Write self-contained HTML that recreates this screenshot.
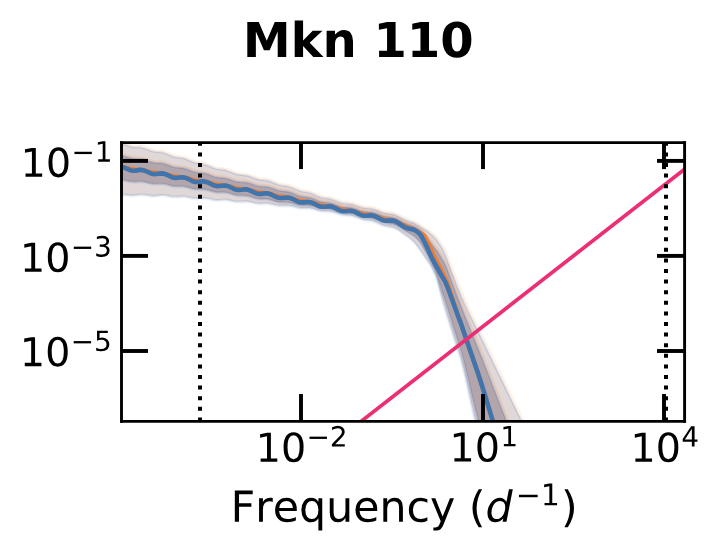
<!DOCTYPE html>
<html><head><meta charset="utf-8"><title>Mkn 110</title>
<style>html,body{margin:0;padding:0;background:#fff;font-family:"Liberation Sans",sans-serif;}
svg{display:block;}</style></head>
<body>
<svg width="718" height="553" viewBox="0 0 718 553" version="1.1">
<defs>
<style type="text/css">*{stroke-linejoin: round; stroke-linecap: butt}</style>
</defs>
<g id="figure_1">
<g id="patch_1">
<path d="M 0 553 L 718 553 L 718 0 L 0 0 z" style="fill: #ffffff"/>
</g>
<g id="axes_1">
<g id="patch_2">
<path d="M 121.5 421.4 L 684.6 421.4 L 684.6 142.6 L 121.5 142.6 z" style="fill: #ffffff"/>
</g>
<g id="FillBetweenPolyCollection_1">
<path d="M 117.5 143.2 L 117.5 195.6 L 118.4 195.4 L 119.3 195.2 L 120.3 195.1 L 121.2 194.9 L 122.1 194.8 L 123 194.6 L 123.9 194.5 L 124.9 194.5 L 125.8 194.6 L 126.7 194.8 L 127.6 194.9 L 128.5 195.1 L 129.5 195.2 L 130.4 195.3 L 131.3 195.3 L 132.2 195.3 L 133.1 195.3 L 134.1 195.2 L 135 195.1 L 135.9 195 L 136.8 194.9 L 137.7 194.7 L 138.7 194.6 L 139.6 194.5 L 140.5 194.4 L 141.4 194.4 L 142.4 194.4 L 143.3 194.5 L 144.2 194.5 L 145.1 194.7 L 146 194.8 L 147 195 L 147.9 195.1 L 148.8 195.3 L 149.7 195.5 L 150.6 195.6 L 151.6 195.7 L 152.5 195.7 L 153.4 195.7 L 154.3 195.7 L 155.2 195.7 L 156.2 195.6 L 157.1 195.4 L 158 195.3 L 158.9 195.2 L 159.8 195.1 L 160.8 195 L 161.7 195 L 162.6 195 L 163.5 195 L 164.4 195.1 L 165.4 195.2 L 166.3 195.3 L 167.2 195.5 L 168.1 195.7 L 169 195.9 L 170 196.1 L 170.9 196.3 L 171.8 196.4 L 172.7 196.5 L 173.6 196.6 L 174.6 196.6 L 175.5 196.6 L 176.4 196.6 L 177.3 196.5 L 178.2 196.5 L 179.2 196.4 L 180.1 196.3 L 181 196.2 L 181.9 196.2 L 182.8 196.2 L 183.8 196.2 L 184.7 196.2 L 185.6 196.4 L 186.5 196.5 L 187.4 196.7 L 188.4 196.9 L 189.3 197.1 L 190.2 197.3 L 191.1 197.5 L 192.1 197.7 L 193 197.9 L 193.9 198 L 194.8 198.1 L 195.7 198.2 L 196.7 198.2 L 197.6 198.2 L 198.5 198.1 L 199.4 198 L 200.3 198 L 201.3 197.9 L 202.2 197.8 L 203.1 197.8 L 204 197.8 L 204.9 197.9 L 205.9 197.9 L 206.8 198.1 L 207.7 198.2 L 208.6 198.4 L 209.5 198.6 L 210.5 198.9 L 211.4 199.1 L 212.3 199.3 L 213.2 199.5 L 214.1 199.7 L 215.1 199.8 L 216 199.9 L 216.9 199.9 L 217.8 199.9 L 218.7 199.9 L 219.7 199.8 L 220.6 199.8 L 221.5 199.7 L 222.4 199.6 L 223.3 199.6 L 224.3 199.5 L 225.2 199.5 L 226.1 199.6 L 227 199.7 L 227.9 199.8 L 228.9 200 L 229.8 200.2 L 230.7 200.4 L 231.6 200.6 L 232.5 200.8 L 233.5 201 L 234.4 201.2 L 235.3 201.4 L 236.2 201.5 L 237.1 201.6 L 238.1 201.6 L 239 201.6 L 239.9 201.5 L 240.8 201.5 L 241.8 201.4 L 242.7 201.3 L 243.6 201.3 L 244.5 201.2 L 245.4 201.2 L 246.4 201.2 L 247.3 201.3 L 248.2 201.4 L 249.1 201.5 L 250 201.7 L 251 201.9 L 251.9 202.1 L 252.8 202.4 L 253.7 202.6 L 254.6 202.8 L 255.6 203 L 256.5 203.2 L 257.4 203.3 L 258.3 203.4 L 259.2 203.4 L 260.2 203.4 L 261.1 203.4 L 262 203.3 L 262.9 203.2 L 263.8 203.2 L 264.8 203.1 L 265.7 203.1 L 266.6 203.1 L 267.5 203.2 L 268.4 203.2 L 269.4 203.4 L 270.3 203.5 L 271.2 203.7 L 272.1 203.9 L 273 204.2 L 274 204.4 L 274.9 204.7 L 275.8 204.9 L 276.7 205.1 L 277.6 205.3 L 278.6 205.4 L 279.5 205.5 L 280.4 205.5 L 281.3 205.5 L 282.2 205.5 L 283.2 205.5 L 284.1 205.4 L 285 205.4 L 285.9 205.3 L 286.8 205.3 L 287.8 205.4 L 288.7 205.4 L 289.6 205.5 L 290.5 205.7 L 291.5 205.9 L 292.4 206.1 L 293.3 206.3 L 294.2 206.6 L 295.1 206.8 L 296.1 207.1 L 297 207.3 L 297.9 207.5 L 298.8 207.7 L 299.7 207.8 L 300.7 207.9 L 301.6 208 L 302.5 208 L 303.4 208 L 304.3 208 L 305.3 208 L 306.2 207.9 L 307.1 207.9 L 308 207.9 L 308.9 208 L 309.9 208.1 L 310.8 208.2 L 311.7 208.4 L 312.6 208.6 L 313.5 208.8 L 314.5 209.1 L 315.4 209.4 L 316.3 209.7 L 317.2 210 L 318.1 210.2 L 319.1 210.4 L 320 210.6 L 320.9 210.8 L 321.8 210.9 L 322.7 211 L 323.7 211 L 324.6 211 L 325.5 211 L 326.4 211 L 327.3 211 L 328.3 211.1 L 329.2 211.1 L 330.1 211.2 L 331 211.3 L 331.9 211.5 L 332.9 211.7 L 333.8 212 L 334.7 212.2 L 335.6 212.5 L 336.5 212.9 L 337.5 213.2 L 338.4 213.5 L 339.3 213.8 L 340.2 214 L 341.2 214.3 L 342.1 214.4 L 343 214.6 L 343.9 214.7 L 344.8 214.8 L 345.8 214.9 L 346.7 214.9 L 347.6 215 L 348.5 215 L 349.4 215.1 L 350.4 215.2 L 351.3 215.4 L 352.2 215.5 L 353.1 215.8 L 354 216.1 L 355 216.4 L 355.9 216.7 L 356.8 217.1 L 357.7 217.5 L 358.6 217.8 L 359.6 218.2 L 360.5 218.5 L 361.4 218.9 L 362.3 219.1 L 363.2 219.4 L 364.2 219.6 L 365.1 219.7 L 366 219.9 L 366.9 220 L 367.8 220.1 L 368.8 220.2 L 369.7 220.3 L 370.6 220.5 L 371.5 220.6 L 372.4 220.8 L 373.4 221.1 L 374.3 221.4 L 375.2 221.7 L 376.1 222.1 L 377 222.5 L 378 222.9 L 378.9 223.3 L 379.8 223.8 L 380.7 224.2 L 381.6 224.6 L 382.6 224.9 L 383.5 225.2 L 384.4 225.5 L 385.3 225.8 L 386.2 226 L 387.2 226.1 L 388.1 226.3 L 389 226.4 L 389.9 226.6 L 390.9 226.8 L 391.8 227 L 392.7 227.2 L 393.6 227.5 L 394.5 227.9 L 395.5 228.3 L 396.4 228.7 L 397.3 229.2 L 398.2 229.8 L 399.1 230.3 L 400.1 230.9 L 401 231.5 L 401.9 232.2 L 402.8 232.8 L 403.7 233.5 L 404.7 234.2 L 405.6 234.8 L 406.5 235.5 L 407.4 236.2 L 408.3 236.8 L 409.3 237.5 L 410.2 238.2 L 411.1 238.9 L 412 239.7 L 412.9 240.5 L 413.9 241.4 L 414.8 242.4 L 415.7 243.5 L 416.6 244.7 L 417.5 245.9 L 418.5 247.2 L 419.4 248.5 L 420.3 249.8 L 421.2 251.1 L 422.1 252.5 L 423.1 253.8 L 424 255.1 L 424.9 256.4 L 425.8 257.7 L 426.7 259 L 427.7 260.3 L 428.6 261.7 L 429.5 263.1 L 430.4 264.6 L 431.3 266.2 L 432.3 267.9 L 433.2 269.6 L 434.1 271.5 L 435 273.5 L 435.9 275.7 L 436.9 278.3 L 437.8 281.4 L 438.7 284.8 L 439.6 288.4 L 440.6 292 L 441.5 295.5 L 442.4 298.8 L 443.3 301.9 L 444.2 305 L 445.2 308.1 L 446.1 311.1 L 447 314.1 L 447.9 317.1 L 448.8 320.1 L 449.8 323.1 L 450.7 326 L 451.6 329 L 452.5 331.9 L 453.4 334.8 L 454.4 337.7 L 455.3 340.6 L 456.2 343.5 L 457.1 346.4 L 458 349.2 L 459 351.9 L 459.9 354.7 L 460.8 357.8 L 461.7 361.1 L 462.6 364.5 L 463.6 368.2 L 464.5 371.9 L 465.4 375.8 L 466.3 379.8 L 467.2 383.9 L 468.2 388 L 469.1 392.2 L 470 396.4 L 470.9 400.6 L 471.8 404.8 L 472.8 409 L 473.7 413.2 L 474.6 417.3 L 475.5 421.3 L 476.4 425.2 L 477.4 429.2 L 478.3 433.2 L 479.2 437.2 L 480.1 441.1 L 481 445.1 L 482 449.1 L 482.9 453 L 483.8 457 L 484.7 461 L 485.6 465 L 486.6 468.9 L 487.5 472.9 L 488.4 476.9 L 489.3 480.9 L 490.3 484.8 L 491.2 488.8 L 492.1 492.8 L 493 496.7 L 493.9 500.7 L 494.9 504.7 L 495.8 508.7 L 496.7 512.6 L 497.6 516.6 L 498.5 520.6 L 499.5 524.6 L 500.4 528.5 L 501.3 532.5 L 502.2 536.5 L 503.1 540.4 L 504.1 544.4 L 505 548.4 L 505.9 552.4 L 506.8 556.3 L 507.7 560.3 L 508.7 564.3 L 509.6 568.3 L 510.5 572.2 L 511.4 576.2 L 512.3 580.2 L 513.3 584.1 L 514.2 588.1 L 515.1 592.1 L 516 596.1 L 516.9 600 L 517.9 604 L 518.8 608 L 519.7 611.9 L 520.6 615.9 L 521.5 619.9 L 522.5 623.9 L 523.4 627.8 L 524.3 631.8 L 525.2 635.8 L 526.1 639.8 L 527.1 643.7 L 528 647.7 L 528.9 651.7 L 529.8 655.6 L 530.7 659.6 L 531.7 663.6 L 532.6 667.5 L 533.5 671.5 L 534.4 675.5 L 535.3 679.5 L 536.3 683.4 L 537.2 687.4 L 538.1 691.4 L 539 695.3 L 540 699.3 L 540 459.4 L 540 459.4 L 539 457.5 L 538.1 455.6 L 537.2 453.6 L 536.3 451.7 L 535.3 449.8 L 534.4 447.8 L 533.5 445.9 L 532.6 444 L 531.7 442 L 530.7 440.1 L 529.8 438.2 L 528.9 436.3 L 528 434.4 L 527.1 432.4 L 526.1 430.5 L 525.2 428.6 L 524.3 426.7 L 523.4 424.8 L 522.5 422.8 L 521.5 420.9 L 520.6 419 L 519.7 417.1 L 518.8 415.2 L 517.9 413.3 L 516.9 411.4 L 516 409.5 L 515.1 407.6 L 514.2 405.7 L 513.3 403.8 L 512.3 401.9 L 511.4 400 L 510.5 398.1 L 509.6 396.2 L 508.7 394.3 L 507.7 392.4 L 506.8 390.5 L 505.9 388.7 L 505 386.8 L 504.1 384.9 L 503.1 383 L 502.2 381.1 L 501.3 379.2 L 500.4 377.3 L 499.5 375.4 L 498.5 373.5 L 497.6 371.7 L 496.7 369.8 L 495.8 367.9 L 494.9 366 L 493.9 364.1 L 493 362.2 L 492.1 360.3 L 491.2 358.4 L 490.3 356.5 L 489.3 354.6 L 488.4 352.7 L 487.5 350.8 L 486.6 348.9 L 485.6 347 L 484.7 345.1 L 483.8 343.2 L 482.9 341.3 L 482 339.5 L 481 337.6 L 480.1 335.7 L 479.2 333.9 L 478.3 332 L 477.4 330.2 L 476.4 328.3 L 475.5 326.5 L 474.6 324.6 L 473.7 322.8 L 472.8 320.9 L 471.8 319 L 470.9 317.1 L 470 315.2 L 469.1 313.3 L 468.2 311.4 L 467.2 309.4 L 466.3 307.4 L 465.4 305.5 L 464.5 303.4 L 463.6 301.4 L 462.6 299.3 L 461.7 297.2 L 460.8 295 L 459.9 292.8 L 459 290.5 L 458 288.3 L 457.1 285.9 L 456.2 283.6 L 455.3 281.2 L 454.4 278.9 L 453.4 276.5 L 452.5 274.1 L 451.6 271.8 L 450.7 269.3 L 449.8 266.7 L 448.8 264.1 L 447.9 261.5 L 447 259 L 446.1 256.6 L 445.2 254.3 L 444.2 252.3 L 443.3 250.5 L 442.4 248.8 L 441.5 247.2 L 440.6 245.7 L 439.6 244.3 L 438.7 242.9 L 437.8 241.6 L 436.9 240.3 L 435.9 239.2 L 435 238.1 L 434.1 237.1 L 433.2 236.2 L 432.3 235.3 L 431.3 234.5 L 430.4 233.7 L 429.5 233 L 428.6 232.2 L 427.7 231.6 L 426.7 230.9 L 425.8 230.3 L 424.9 229.7 L 424 229.2 L 423.1 228.6 L 422.1 228 L 421.2 227.4 L 420.3 226.8 L 419.4 226.2 L 418.5 225.6 L 417.5 225 L 416.6 224.4 L 415.7 223.9 L 414.8 223.4 L 413.9 223 L 412.9 222.6 L 412 222.3 L 411.1 222 L 410.2 221.7 L 409.3 221.4 L 408.3 221.1 L 407.4 220.8 L 406.5 220.5 L 405.6 220.1 L 404.7 219.7 L 403.7 219.2 L 402.8 218.8 L 401.9 218.3 L 401 217.8 L 400.1 217.3 L 399.1 216.8 L 398.2 216.3 L 397.3 215.9 L 396.4 215.5 L 395.5 215.1 L 394.5 214.8 L 393.6 214.5 L 392.7 214.2 L 391.8 214.1 L 390.9 213.9 L 389.9 213.8 L 389 213.7 L 388.1 213.6 L 387.2 213.4 L 386.2 213.3 L 385.3 213.1 L 384.4 212.9 L 383.5 212.7 L 382.6 212.4 L 381.6 212.1 L 380.7 211.8 L 379.8 211.4 L 378.9 211 L 378 210.7 L 377 210.3 L 376.1 209.9 L 375.2 209.6 L 374.3 209.3 L 373.4 209.1 L 372.4 208.9 L 371.5 208.7 L 370.6 208.6 L 369.7 208.5 L 368.8 208.4 L 367.8 208.3 L 366.9 208.3 L 366 208.2 L 365.1 208.1 L 364.2 208 L 363.2 207.8 L 362.3 207.6 L 361.4 207.4 L 360.5 207.1 L 359.6 206.8 L 358.6 206.5 L 357.7 206.1 L 356.8 205.8 L 355.9 205.4 L 355 205.1 L 354 204.8 L 353.1 204.5 L 352.2 204.3 L 351.3 204.1 L 350.4 204 L 349.4 203.9 L 348.5 203.8 L 347.6 203.7 L 346.7 203.6 L 345.8 203.6 L 344.8 203.5 L 343.9 203.4 L 343 203.3 L 342.1 203.1 L 341.2 202.8 L 340.2 202.6 L 339.3 202.3 L 338.4 201.9 L 337.5 201.6 L 336.5 201.2 L 335.6 200.8 L 334.7 200.4 L 333.8 200.1 L 332.9 199.7 L 331.9 199.4 L 331 199.2 L 330.1 198.9 L 329.2 198.8 L 328.3 198.6 L 327.3 198.5 L 326.4 198.4 L 325.5 198.3 L 324.6 198.1 L 323.7 198 L 322.7 197.8 L 321.8 197.6 L 320.9 197.4 L 320 197.1 L 319.1 196.8 L 318.1 196.4 L 317.2 196 L 316.3 195.6 L 315.4 195.2 L 314.5 194.8 L 313.5 194.4 L 312.6 194 L 311.7 193.6 L 310.8 193.3 L 309.9 193 L 308.9 192.8 L 308 192.6 L 307.1 192.4 L 306.2 192.2 L 305.3 192.1 L 304.3 192 L 303.4 191.8 L 302.5 191.7 L 301.6 191.5 L 300.7 191.3 L 299.7 191 L 298.8 190.7 L 297.9 190.4 L 297 190 L 296.1 189.6 L 295.1 189.2 L 294.2 188.8 L 293.3 188.3 L 292.4 187.9 L 291.5 187.5 L 290.5 187.2 L 289.6 186.9 L 288.7 186.6 L 287.8 186.4 L 286.8 186.2 L 285.9 186 L 285 185.9 L 284.1 185.8 L 283.2 185.7 L 282.2 185.5 L 281.3 185.4 L 280.4 185.2 L 279.5 185 L 278.6 184.8 L 277.6 184.5 L 276.7 184.2 L 275.8 183.8 L 274.9 183.5 L 274 183.1 L 273 182.7 L 272.1 182.3 L 271.2 181.9 L 270.3 181.6 L 269.4 181.3 L 268.4 181 L 267.5 180.8 L 266.6 180.6 L 265.7 180.4 L 264.8 180.3 L 263.8 180.2 L 262.9 180.1 L 262 180.1 L 261.1 180 L 260.2 179.9 L 259.2 179.7 L 258.3 179.5 L 257.4 179.3 L 256.5 179.1 L 255.6 178.8 L 254.6 178.4 L 253.7 178.1 L 252.8 177.7 L 251.9 177.3 L 251 177 L 250 176.6 L 249.1 176.3 L 248.2 176 L 247.3 175.8 L 246.4 175.6 L 245.4 175.4 L 244.5 175.3 L 243.6 175.2 L 242.7 175.1 L 241.8 175 L 240.8 174.9 L 239.9 174.8 L 239 174.7 L 238.1 174.6 L 237.1 174.4 L 236.2 174.2 L 235.3 173.9 L 234.4 173.6 L 233.5 173.2 L 232.5 172.9 L 231.6 172.5 L 230.7 172.1 L 229.8 171.7 L 228.9 171.4 L 227.9 171.1 L 227 170.8 L 226.1 170.5 L 225.2 170.3 L 224.3 170.1 L 223.3 170 L 222.4 169.8 L 221.5 169.7 L 220.6 169.6 L 219.7 169.5 L 218.7 169.4 L 217.8 169.3 L 216.9 169.1 L 216 168.9 L 215.1 168.6 L 214.1 168.3 L 213.2 168 L 212.3 167.6 L 211.4 167.2 L 210.5 166.8 L 209.5 166.4 L 208.6 166 L 207.7 165.6 L 206.8 165.2 L 205.9 164.9 L 204.9 164.7 L 204 164.4 L 203.1 164.2 L 202.2 164.1 L 201.3 163.9 L 200.3 163.8 L 199.4 163.7 L 198.5 163.6 L 197.6 163.4 L 196.7 163.3 L 195.7 163.1 L 194.8 162.8 L 193.9 162.5 L 193 162.2 L 192.1 161.8 L 191.1 161.5 L 190.2 161 L 189.3 160.6 L 188.4 160.2 L 187.4 159.8 L 186.5 159.4 L 185.6 159.1 L 184.7 158.8 L 183.8 158.5 L 182.8 158.3 L 181.9 158.1 L 181 158 L 180.1 157.8 L 179.2 157.7 L 178.2 157.6 L 177.3 157.5 L 176.4 157.4 L 175.5 157.2 L 174.6 157 L 173.6 156.8 L 172.7 156.5 L 171.8 156.2 L 170.9 155.8 L 170 155.4 L 169 155 L 168.1 154.6 L 167.2 154.3 L 166.3 153.9 L 165.4 153.5 L 164.4 153.2 L 163.5 152.9 L 162.6 152.7 L 161.7 152.5 L 160.8 152.4 L 159.8 152.3 L 158.9 152.2 L 158 152.1 L 157.1 152 L 156.2 151.9 L 155.2 151.8 L 154.3 151.7 L 153.4 151.5 L 152.5 151.3 L 151.6 151.1 L 150.6 150.8 L 149.7 150.5 L 148.8 150.1 L 147.9 149.8 L 147 149.4 L 146 149.1 L 145.1 148.7 L 144.2 148.4 L 143.3 148.2 L 142.4 148 L 141.4 147.8 L 140.5 147.6 L 139.6 147.5 L 138.7 147.4 L 137.7 147.4 L 136.8 147.3 L 135.9 147.3 L 135 147.2 L 134.1 147.2 L 133.1 147.1 L 132.2 146.9 L 131.3 146.7 L 130.4 146.5 L 129.5 146.2 L 128.5 145.9 L 127.6 145.6 L 126.7 145.3 L 125.8 144.9 L 124.9 144.6 L 123.9 144.3 L 123 144 L 122.1 143.7 L 121.2 143.5 L 120.3 143.4 L 119.3 143.3 L 118.4 143.2 L 117.5 143.2 z" clip-path="url(#p14f3e395e9)" style="fill: #e0d8d8"/>
</g>
<g id="FillBetweenPolyCollection_2">
<path d="M 117.5 155.1 L 117.5 180.2 L 118.4 180.1 L 119.3 180.1 L 120.3 180 L 121.2 180 L 122.1 180.1 L 123 180.1 L 123.9 180.1 L 124.9 180.3 L 125.8 180.5 L 126.7 180.7 L 127.6 181 L 128.5 181.2 L 129.5 181.4 L 130.4 181.5 L 131.3 181.6 L 132.2 181.7 L 133.1 181.7 L 134.1 181.7 L 135 181.7 L 135.9 181.7 L 136.8 181.6 L 137.7 181.5 L 138.7 181.5 L 139.6 181.5 L 140.5 181.4 L 141.4 181.5 L 142.4 181.6 L 143.3 181.7 L 144.2 181.8 L 145.1 182 L 146 182.2 L 147 182.5 L 147.9 182.7 L 148.8 183 L 149.7 183.2 L 150.6 183.4 L 151.6 183.5 L 152.5 183.7 L 153.4 183.7 L 154.3 183.8 L 155.2 183.8 L 156.2 183.8 L 157.1 183.7 L 158 183.7 L 158.9 183.6 L 159.8 183.6 L 160.8 183.6 L 161.7 183.6 L 162.6 183.7 L 163.5 183.8 L 164.4 183.9 L 165.4 184.1 L 166.3 184.3 L 167.2 184.6 L 168.1 184.8 L 169 185.1 L 170 185.4 L 170.9 185.6 L 171.8 185.8 L 172.7 186 L 173.6 186.2 L 174.6 186.3 L 175.5 186.3 L 176.4 186.3 L 177.3 186.3 L 178.2 186.3 L 179.2 186.3 L 180.1 186.3 L 181 186.3 L 181.9 186.3 L 182.8 186.3 L 183.8 186.4 L 184.7 186.6 L 185.6 186.7 L 186.5 186.9 L 187.4 187.2 L 188.4 187.4 L 189.3 187.7 L 190.2 188 L 191.1 188.3 L 192.1 188.5 L 193 188.8 L 193.9 188.9 L 194.8 189.1 L 195.7 189.2 L 196.7 189.3 L 197.6 189.3 L 198.5 189.3 L 199.4 189.3 L 200.3 189.3 L 201.3 189.3 L 202.2 189.3 L 203.1 189.3 L 204 189.4 L 204.9 189.5 L 205.9 189.6 L 206.8 189.8 L 207.7 190 L 208.6 190.3 L 209.5 190.5 L 210.5 190.8 L 211.4 191.1 L 212.3 191.4 L 213.2 191.6 L 214.1 191.8 L 215.1 192 L 216 192.2 L 216.9 192.3 L 217.8 192.3 L 218.7 192.4 L 219.7 192.4 L 220.6 192.3 L 221.5 192.3 L 222.4 192.3 L 223.3 192.3 L 224.3 192.3 L 225.2 192.4 L 226.1 192.5 L 227 192.6 L 227.9 192.8 L 228.9 193 L 229.8 193.3 L 230.7 193.6 L 231.6 193.9 L 232.5 194.2 L 233.5 194.5 L 234.4 194.7 L 235.3 195 L 236.2 195.2 L 237.1 195.3 L 238.1 195.4 L 239 195.5 L 239.9 195.6 L 240.8 195.6 L 241.8 195.6 L 242.7 195.6 L 243.6 195.6 L 244.5 195.6 L 245.4 195.7 L 246.4 195.8 L 247.3 195.9 L 248.2 196.1 L 249.1 196.3 L 250 196.5 L 251 196.8 L 251.9 197.1 L 252.8 197.4 L 253.7 197.7 L 254.6 198 L 255.6 198.2 L 256.5 198.4 L 257.4 198.6 L 258.3 198.8 L 259.2 198.9 L 260.2 198.9 L 261.1 199 L 262 199 L 262.9 199 L 263.8 199 L 264.8 199 L 265.7 199 L 266.6 199.1 L 267.5 199.2 L 268.4 199.3 L 269.4 199.5 L 270.3 199.7 L 271.2 200 L 272.1 200.3 L 273 200.6 L 274 200.9 L 274.9 201.2 L 275.8 201.4 L 276.7 201.7 L 277.6 201.9 L 278.6 202.1 L 279.5 202.2 L 280.4 202.3 L 281.3 202.3 L 282.2 202.4 L 283.2 202.3 L 284.1 202.3 L 285 202.3 L 285.9 202.3 L 286.8 202.3 L 287.8 202.3 L 288.7 202.4 L 289.6 202.6 L 290.5 202.7 L 291.5 202.9 L 292.4 203.2 L 293.3 203.5 L 294.2 203.7 L 295.1 204 L 296.1 204.3 L 297 204.6 L 297.9 204.8 L 298.8 205 L 299.7 205.2 L 300.7 205.3 L 301.6 205.4 L 302.5 205.4 L 303.4 205.4 L 304.3 205.4 L 305.3 205.4 L 306.2 205.4 L 307.1 205.4 L 308 205.5 L 308.9 205.5 L 309.9 205.7 L 310.8 205.8 L 311.7 206 L 312.6 206.2 L 313.5 206.5 L 314.5 206.8 L 315.4 207.1 L 316.3 207.4 L 317.2 207.7 L 318.1 208 L 319.1 208.2 L 320 208.4 L 320.9 208.6 L 321.8 208.7 L 322.7 208.8 L 323.7 208.8 L 324.6 208.9 L 325.5 208.9 L 326.4 208.9 L 327.3 208.9 L 328.3 209 L 329.2 209 L 330.1 209.1 L 331 209.3 L 331.9 209.4 L 332.9 209.7 L 333.8 209.9 L 334.7 210.2 L 335.6 210.5 L 336.5 210.9 L 337.5 211.2 L 338.4 211.5 L 339.3 211.8 L 340.2 212.1 L 341.2 212.3 L 342.1 212.5 L 343 212.6 L 343.9 212.7 L 344.8 212.8 L 345.8 212.9 L 346.7 212.9 L 347.6 213 L 348.5 213 L 349.4 213.1 L 350.4 213.2 L 351.3 213.4 L 352.2 213.6 L 353.1 213.8 L 354 214 L 355 214.4 L 355.9 214.7 L 356.8 215 L 357.7 215.4 L 358.6 215.8 L 359.6 216.1 L 360.5 216.4 L 361.4 216.7 L 362.3 217 L 363.2 217.2 L 364.2 217.4 L 365.1 217.5 L 366 217.6 L 366.9 217.7 L 367.8 217.8 L 368.8 217.9 L 369.7 218 L 370.6 218.1 L 371.5 218.2 L 372.4 218.4 L 373.4 218.7 L 374.3 218.9 L 375.2 219.2 L 376.1 219.6 L 377 220 L 378 220.3 L 378.9 220.7 L 379.8 221.1 L 380.7 221.5 L 381.6 221.9 L 382.6 222.2 L 383.5 222.5 L 384.4 222.7 L 385.3 222.9 L 386.2 223.1 L 387.2 223.3 L 388.1 223.4 L 389 223.5 L 389.9 223.6 L 390.9 223.8 L 391.8 223.9 L 392.7 224.1 L 393.6 224.4 L 394.5 224.7 L 395.5 225.1 L 396.4 225.5 L 397.3 225.9 L 398.2 226.4 L 399.1 227 L 400.1 227.5 L 401 228.1 L 401.9 228.7 L 402.8 229.2 L 403.7 229.8 L 404.7 230.4 L 405.6 230.9 L 406.5 231.5 L 407.4 232 L 408.3 232.5 L 409.3 233.1 L 410.2 233.6 L 411.1 234.1 L 412 234.7 L 412.9 235.2 L 413.9 235.9 L 414.8 236.6 L 415.7 237.4 L 416.6 238.3 L 417.5 239.2 L 418.5 240.1 L 419.4 241.2 L 420.3 242.3 L 421.2 243.7 L 422.1 245.3 L 423.1 247 L 424 248.6 L 424.9 250.2 L 425.8 251.9 L 426.7 253.6 L 427.7 255.3 L 428.6 257.1 L 429.5 259 L 430.4 260.8 L 431.3 262.6 L 432.3 264.4 L 433.2 266.2 L 434.1 268.2 L 435 270.1 L 435.9 272.2 L 436.9 274.6 L 437.8 277.3 L 438.7 280.3 L 439.6 283.4 L 440.6 286.6 L 441.5 289.6 L 442.4 292.4 L 443.3 295.2 L 444.2 297.9 L 445.2 300.6 L 446.1 303.4 L 447 306.3 L 447.9 309.2 L 448.8 312.2 L 449.8 315.2 L 450.7 318.1 L 451.6 321 L 452.5 323.9 L 453.4 326.9 L 454.4 329.8 L 455.3 332.7 L 456.2 335.6 L 457.1 338.5 L 458 341.2 L 459 344 L 459.9 346.8 L 460.8 349.8 L 461.7 353 L 462.6 356.4 L 463.6 360 L 464.5 363.7 L 465.4 367.4 L 466.3 371.3 L 467.2 375.2 L 468.2 379.1 L 469.1 383.1 L 470 387.1 L 470.9 391 L 471.8 394.9 L 472.8 398.8 L 473.7 402.6 L 474.6 406.4 L 475.5 410.2 L 476.4 413.9 L 477.4 417.6 L 478.3 421.4 L 479.2 425.1 L 480.1 428.9 L 481 432.6 L 482 436.4 L 482.9 440.1 L 483.8 443.9 L 484.7 447.7 L 485.6 451.5 L 486.6 455.2 L 487.5 459 L 488.4 462.8 L 489.3 466.6 L 490.3 470.4 L 491.2 474.1 L 492.1 477.9 L 493 481.7 L 493.9 485.4 L 494.9 489.2 L 495.8 493 L 496.7 496.8 L 497.6 500.5 L 498.5 504.3 L 499.5 508.1 L 500.4 511.8 L 501.3 515.6 L 502.2 519.4 L 503.1 523.1 L 504.1 526.9 L 505 530.7 L 505.9 534.4 L 506.8 538.2 L 507.7 541.9 L 508.7 545.7 L 509.6 549.5 L 510.5 553.2 L 511.4 557 L 512.3 560.8 L 513.3 564.5 L 514.2 568.3 L 515.1 572.1 L 516 575.8 L 516.9 579.6 L 517.9 583.4 L 518.8 587.1 L 519.7 590.9 L 520.6 594.6 L 521.5 598.4 L 522.5 602.2 L 523.4 605.9 L 524.3 609.7 L 525.2 613.5 L 526.1 617.2 L 527.1 621 L 528 624.8 L 528.9 628.5 L 529.8 632.3 L 530.7 636 L 531.7 639.8 L 532.6 643.6 L 533.5 647.3 L 534.4 651.1 L 535.3 654.9 L 536.3 658.6 L 537.2 662.4 L 538.1 666.1 L 539 669.9 L 540 673.7 L 540 507.4 L 540 507.4 L 539 505.1 L 538.1 502.7 L 537.2 500.4 L 536.3 498 L 535.3 495.6 L 534.4 493.3 L 533.5 490.9 L 532.6 488.6 L 531.7 486.2 L 530.7 483.8 L 529.8 481.5 L 528.9 479.1 L 528 476.8 L 527.1 474.4 L 526.1 472.1 L 525.2 469.7 L 524.3 467.3 L 523.4 465 L 522.5 462.6 L 521.5 460.3 L 520.6 457.9 L 519.7 455.6 L 518.8 453.2 L 517.9 450.8 L 516.9 448.4 L 516 446 L 515.1 443.6 L 514.2 441.2 L 513.3 438.8 L 512.3 436.4 L 511.4 434 L 510.5 431.6 L 509.6 429.2 L 508.7 426.8 L 507.7 424.4 L 506.8 422.1 L 505.9 419.7 L 505 417.3 L 504.1 414.9 L 503.1 412.6 L 502.2 410.2 L 501.3 407.8 L 500.4 405.4 L 499.5 403.1 L 498.5 400.7 L 497.6 398.3 L 496.7 395.9 L 495.8 393.6 L 494.9 391.2 L 493.9 388.8 L 493 386.5 L 492.1 384.1 L 491.2 381.7 L 490.3 379.3 L 489.3 377 L 488.4 374.6 L 487.5 372.2 L 486.6 369.8 L 485.6 367.4 L 484.7 365 L 483.8 362.7 L 482.9 360.3 L 482 358 L 481 355.7 L 480.1 353.3 L 479.2 351 L 478.3 348.7 L 477.4 346.4 L 476.4 344.2 L 475.5 341.9 L 474.6 339.7 L 473.7 337.5 L 472.8 335.3 L 471.8 333 L 470.9 330.8 L 470 328.6 L 469.1 326.3 L 468.2 324.1 L 467.2 321.8 L 466.3 319.5 L 465.4 317.2 L 464.5 314.9 L 463.6 312.5 L 462.6 310.1 L 461.7 307.7 L 460.8 305.4 L 459.9 303.1 L 459 300.7 L 458 298.4 L 457.1 296 L 456.2 293.6 L 455.3 291.1 L 454.4 288.6 L 453.4 286.2 L 452.5 283.7 L 451.6 281.2 L 450.7 278.7 L 449.8 276.1 L 448.8 273.6 L 447.9 271.1 L 447 268.7 L 446.1 266.4 L 445.2 264.3 L 444.2 262.5 L 443.3 260.9 L 442.4 259.4 L 441.5 257.9 L 440.6 256.4 L 439.6 254.9 L 438.7 253.5 L 437.8 252.1 L 436.9 250.8 L 435.9 249.6 L 435 248.4 L 434.1 247.2 L 433.2 246 L 432.3 244.8 L 431.3 243.7 L 430.4 242.5 L 429.5 241.3 L 428.6 240 L 427.7 238.7 L 426.7 237.6 L 425.8 236.4 L 424.9 235.4 L 424 234.3 L 423.1 233.3 L 422.1 232.2 L 421.2 231.2 L 420.3 230.3 L 419.4 229.6 L 418.5 229 L 417.5 228.3 L 416.6 227.8 L 415.7 227.2 L 414.8 226.7 L 413.9 226.3 L 412.9 226 L 412 225.6 L 411.1 225.3 L 410.2 225 L 409.3 224.7 L 408.3 224.4 L 407.4 224 L 406.5 223.6 L 405.6 223.3 L 404.7 222.8 L 403.7 222.4 L 402.8 221.9 L 401.9 221.5 L 401 221 L 400.1 220.5 L 399.1 220 L 398.2 219.5 L 397.3 219 L 396.4 218.6 L 395.5 218.3 L 394.5 217.9 L 393.6 217.7 L 392.7 217.4 L 391.8 217.3 L 390.9 217.1 L 389.9 217 L 389 216.9 L 388.1 216.8 L 387.2 216.7 L 386.2 216.6 L 385.3 216.4 L 384.4 216.3 L 383.5 216 L 382.6 215.8 L 381.6 215.5 L 380.7 215.1 L 379.8 214.8 L 378.9 214.4 L 378 214 L 377 213.7 L 376.1 213.3 L 375.2 213 L 374.3 212.7 L 373.4 212.5 L 372.4 212.3 L 371.5 212.1 L 370.6 212 L 369.7 211.9 L 368.8 211.9 L 367.8 211.8 L 366.9 211.8 L 366 211.7 L 365.1 211.6 L 364.2 211.5 L 363.2 211.3 L 362.3 211.1 L 361.4 210.9 L 360.5 210.6 L 359.6 210.3 L 358.6 210 L 357.7 209.7 L 356.8 209.3 L 355.9 209 L 355 208.6 L 354 208.4 L 353.1 208.1 L 352.2 207.9 L 351.3 207.7 L 350.4 207.6 L 349.4 207.5 L 348.5 207.4 L 347.6 207.3 L 346.7 207.3 L 345.8 207.2 L 344.8 207.2 L 343.9 207.1 L 343 206.9 L 342.1 206.8 L 341.2 206.6 L 340.2 206.3 L 339.3 206 L 338.4 205.7 L 337.5 205.3 L 336.5 205 L 335.6 204.6 L 334.7 204.2 L 333.8 203.9 L 332.9 203.6 L 331.9 203.3 L 331 203.1 L 330.1 202.9 L 329.2 202.7 L 328.3 202.6 L 327.3 202.5 L 326.4 202.4 L 325.5 202.3 L 324.6 202.2 L 323.7 202.1 L 322.7 202 L 321.8 201.8 L 320.9 201.6 L 320 201.3 L 319.1 201.1 L 318.1 200.7 L 317.2 200.4 L 316.3 200 L 315.4 199.6 L 314.5 199.2 L 313.5 198.8 L 312.6 198.5 L 311.7 198.1 L 310.8 197.9 L 309.9 197.6 L 308.9 197.4 L 308 197.2 L 307.1 197.1 L 306.2 197 L 305.3 196.9 L 304.3 196.8 L 303.4 196.7 L 302.5 196.5 L 301.6 196.4 L 300.7 196.2 L 299.7 196 L 298.8 195.7 L 297.9 195.4 L 297 195.1 L 296.1 194.7 L 295.1 194.3 L 294.2 193.9 L 293.3 193.5 L 292.4 193.1 L 291.5 192.8 L 290.5 192.4 L 289.6 192.2 L 288.7 191.9 L 287.8 191.7 L 286.8 191.6 L 285.9 191.4 L 285 191.3 L 284.1 191.2 L 283.2 191.1 L 282.2 191 L 281.3 190.9 L 280.4 190.8 L 279.5 190.6 L 278.6 190.4 L 277.6 190.2 L 276.7 189.9 L 275.8 189.6 L 274.9 189.2 L 274 188.9 L 273 188.5 L 272.1 188.2 L 271.2 187.9 L 270.3 187.6 L 269.4 187.3 L 268.4 187.1 L 267.5 186.9 L 266.6 186.7 L 265.7 186.6 L 264.8 186.5 L 263.8 186.5 L 262.9 186.4 L 262 186.4 L 261.1 186.3 L 260.2 186.3 L 259.2 186.2 L 258.3 186 L 257.4 185.8 L 256.5 185.6 L 255.6 185.4 L 254.6 185.1 L 253.7 184.8 L 252.8 184.4 L 251.9 184.1 L 251 183.8 L 250 183.4 L 249.1 183.2 L 248.2 182.9 L 247.3 182.7 L 246.4 182.5 L 245.4 182.4 L 244.5 182.3 L 243.6 182.3 L 242.7 182.2 L 241.8 182.2 L 240.8 182.1 L 239.9 182.1 L 239 182 L 238.1 181.9 L 237.1 181.8 L 236.2 181.6 L 235.3 181.4 L 234.4 181.1 L 233.5 180.8 L 232.5 180.5 L 231.6 180.1 L 230.7 179.8 L 229.8 179.5 L 228.9 179.1 L 227.9 178.8 L 227 178.6 L 226.1 178.4 L 225.2 178.2 L 224.3 178 L 223.3 177.9 L 222.4 177.8 L 221.5 177.8 L 220.6 177.7 L 219.7 177.6 L 218.7 177.6 L 217.8 177.5 L 216.9 177.3 L 216 177.1 L 215.1 176.9 L 214.1 176.6 L 213.2 176.3 L 212.3 176 L 211.4 175.6 L 210.5 175.3 L 209.5 174.9 L 208.6 174.5 L 207.7 174.2 L 206.8 173.9 L 205.9 173.6 L 204.9 173.4 L 204 173.2 L 203.1 173.1 L 202.2 172.9 L 201.3 172.8 L 200.3 172.8 L 199.4 172.7 L 198.5 172.6 L 197.6 172.5 L 196.7 172.4 L 195.7 172.2 L 194.8 172 L 193.9 171.8 L 193 171.5 L 192.1 171.2 L 191.1 170.9 L 190.2 170.5 L 189.3 170.1 L 188.4 169.7 L 187.4 169.4 L 186.5 169 L 185.6 168.7 L 184.7 168.5 L 183.8 168.3 L 182.8 168.1 L 181.9 167.9 L 181 167.8 L 180.1 167.7 L 179.2 167.7 L 178.2 167.6 L 177.3 167.5 L 176.4 167.4 L 175.5 167.3 L 174.6 167.2 L 173.6 167 L 172.7 166.7 L 171.8 166.5 L 170.9 166.1 L 170 165.8 L 169 165.5 L 168.1 165.1 L 167.2 164.7 L 166.3 164.4 L 165.4 164.1 L 164.4 163.8 L 163.5 163.6 L 162.6 163.4 L 161.7 163.2 L 160.8 163.1 L 159.8 163 L 158.9 163 L 158 162.9 L 157.1 162.9 L 156.2 162.8 L 155.2 162.8 L 154.3 162.7 L 153.4 162.5 L 152.5 162.3 L 151.6 162.1 L 150.6 161.9 L 149.7 161.6 L 148.8 161.3 L 147.9 161 L 147 160.6 L 146 160.3 L 145.1 160 L 144.2 159.7 L 143.3 159.5 L 142.4 159.3 L 141.4 159.1 L 140.5 159 L 139.6 158.9 L 138.7 158.9 L 137.7 158.8 L 136.8 158.8 L 135.9 158.8 L 135 158.8 L 134.1 158.7 L 133.1 158.6 L 132.2 158.5 L 131.3 158.3 L 130.4 158.1 L 129.5 157.9 L 128.5 157.6 L 127.6 157.3 L 126.7 157 L 125.8 156.7 L 124.9 156.4 L 123.9 156.1 L 123 155.8 L 122.1 155.6 L 121.2 155.4 L 120.3 155.3 L 119.3 155.2 L 118.4 155.2 L 117.5 155.1 z" clip-path="url(#p14f3e395e9)" style="fill: #b2a6ac"/>
</g>
<g id="line2d_1">
<path d="M 118.1 141.6 L 120.9 141.8 L 122.7 142.1 L 125.5 143 L 131 144.9 L 132.8 145.3 L 135.6 145.6 L 141.1 146 L 143 146.4 L 144.8 146.8 L 147.6 147.8 L 151.2 149.2 L 154 149.9 L 156.8 150.3 L 162.3 150.9 L 164.1 151.3 L 166.9 152.3 L 173.3 154.9 L 175.2 155.4 L 177.9 155.9 L 183.4 156.7 L 185.3 157.2 L 188 158.2 L 194.5 160.9 L 196.3 161.5 L 199.1 162 L 203.7 162.6 L 205.5 163.1 L 207.4 163.6 L 210.1 164.8 L 214.7 166.7 L 216.6 167.3 L 218.4 167.7 L 221.2 168 L 224.9 168.5 L 226.7 168.9 L 229.5 169.8 L 236.8 172.6 L 238.7 173 L 241.4 173.3 L 246 173.8 L 247.9 174.2 L 250.6 175 L 258 177.7 L 259.8 178.1 L 262.6 178.5 L 266.3 178.8 L 268.1 179.2 L 270 179.7 L 272.7 180.7 L 278.2 182.9 L 280.1 183.4 L 282.8 183.9 L 288.4 184.8 L 290.2 185.3 L 293 186.3 L 299.4 189.1 L 301.3 189.7 L 304 190.2 L 309.5 191.2 L 311.4 191.7 L 314.1 192.8 L 319.7 195.2 L 321.5 195.8 L 323.3 196.2 L 326.1 196.7 L 329.8 197.2 L 331.6 197.6 L 334.4 198.5 L 341.8 201.2 L 343.6 201.7 L 346.4 202 L 351 202.4 L 352.8 202.7 L 355.6 203.5 L 362.9 206 L 364.8 206.4 L 367.5 206.7 L 372.1 207.1 L 374 207.5 L 375.8 208 L 378.6 209.1 L 382.2 210.5 L 385 211.3 L 387.8 211.8 L 392.4 212.5 L 394.2 212.9 L 396.1 213.5 L 398.8 214.7 L 407.1 218.9 L 409.9 219.8 L 414.5 221.4 L 416.3 222.3 L 419.1 224 L 427.4 229.3 L 429.4 230.6 L 432.3 232.9 L 435.2 235.5 L 437.1 237.6 L 439 240 L 441 242.7 L 442.9 245.6 L 444.8 248.9 L 445.8 250.7 L 446.8 252.7 L 448.6 257.4 L 455 274.9 L 461.5 291.2 L 465.2 299.8 L 469.8 309.8 L 475.3 321.2 L 490.9 353 L 535.1 444.3 L 541.6 457.8 L 541.6 457.8" clip-path="url(#p14f3e395e9)" style="fill: none; stroke: #ff801a; stroke-opacity: 0.121; stroke-width: 1.8; stroke-linecap: square"/>
</g>
<g id="line2d_2">
<path d="M 117.5 197 L 120.3 196.5 L 124.9 195.9 L 130.4 196.7 L 132.2 196.7 L 135 196.5 L 140.5 195.8 L 142.4 195.8 L 144.2 195.9 L 147 196.4 L 150.6 197 L 152.5 197.1 L 154.3 197.1 L 157.1 196.8 L 160.8 196.4 L 162.6 196.4 L 164.4 196.5 L 167.2 196.9 L 171.8 197.8 L 173.6 198 L 175.5 198 L 178.2 197.9 L 181.9 197.6 L 183.8 197.6 L 185.6 197.8 L 188.4 198.3 L 193 199.3 L 194.8 199.5 L 196.7 199.6 L 199.4 199.4 L 203.1 199.2 L 204.9 199.3 L 206.8 199.5 L 209.5 200 L 214.1 201.1 L 216 201.3 L 217.8 201.3 L 220.6 201.2 L 224.3 200.9 L 226.1 201 L 227.9 201.2 L 230.7 201.8 L 234.4 202.6 L 236.2 202.9 L 238.1 203 L 240.8 202.9 L 245.4 202.6 L 247.3 202.7 L 249.1 202.9 L 251.9 203.5 L 255.6 204.4 L 257.4 204.7 L 259.2 204.8 L 262 204.7 L 266.6 204.5 L 268.4 204.6 L 270.3 204.9 L 273 205.6 L 276.7 206.5 L 278.6 206.8 L 280.4 206.9 L 283.2 206.9 L 286.8 206.7 L 288.7 206.8 L 290.5 207.1 L 293.3 207.7 L 297.9 208.9 L 299.7 209.2 L 301.6 209.4 L 304.3 209.4 L 308 209.3 L 309.9 209.5 L 311.7 209.8 L 314.5 210.5 L 319.1 211.8 L 320.9 212.2 L 323.7 212.4 L 330.1 212.6 L 331.9 212.9 L 334.7 213.6 L 341.2 215.7 L 343.9 216.1 L 347.6 216.4 L 350.4 216.6 L 352.2 216.9 L 354 217.5 L 356.8 218.5 L 361.4 220.3 L 363.2 220.8 L 366 221.3 L 371.5 222 L 373.4 222.5 L 375.2 223.1 L 378 224.3 L 381.6 226 L 384.4 226.9 L 387.2 227.5 L 391.8 228.4 L 393.6 228.9 L 395.5 229.7 L 397.3 230.6 L 400.1 232.3 L 403.7 234.9 L 411.1 240.3 L 412.9 241.9 L 414.8 243.8 L 416.6 246.1 L 419.4 249.9 L 427.5 261.7 L 430.2 266 L 431.9 269.3 L 433.6 272.9 L 435.4 277.1 L 436.3 279.7 L 438 286.2 L 441.5 300.2 L 445.1 312.5 L 451.5 333.3 L 457 350.6 L 458.9 356.1 L 460.7 362.5 L 462.6 369.6 L 465.3 381.2 L 469.9 402 L 474.5 422.7 L 504.9 554 L 504.9 554" clip-path="url(#p14f3e395e9)" style="fill: none; stroke: #8cb2e6; stroke-opacity: 0.11; stroke-width: 1.6; stroke-linecap: square"/>
</g>
<g id="line2d_3">
<path d="M 118.1 153.5 L 120.9 153.7 L 122.7 154 L 125.5 154.8 L 131 156.5 L 132.8 156.9 L 135.6 157.2 L 141.1 157.4 L 143 157.7 L 144.8 158.1 L 147.6 159 L 151.2 160.3 L 153.1 160.7 L 154.9 161.1 L 157.7 161.3 L 161.4 161.5 L 163.2 161.8 L 165 162.2 L 167.8 163.1 L 172.4 164.9 L 174.2 165.4 L 177 165.8 L 184.4 166.7 L 186.2 167.1 L 189 168.1 L 193.6 169.9 L 195.4 170.4 L 198.2 170.9 L 205.5 171.8 L 207.4 172.3 L 210.1 173.3 L 214.7 175 L 216.6 175.5 L 218.4 175.9 L 221.2 176.1 L 224.9 176.4 L 226.7 176.8 L 229.5 177.5 L 235.9 179.8 L 237.7 180.2 L 240.5 180.5 L 247 180.9 L 248.8 181.3 L 251.6 182.2 L 257.1 184 L 258.9 184.4 L 261.7 184.7 L 267.2 185.1 L 269 185.5 L 270.9 186 L 273.6 186.9 L 277.3 188.3 L 280.1 189 L 282.8 189.4 L 288.4 190.1 L 290.2 190.6 L 293 191.5 L 299.4 194.1 L 301.3 194.6 L 304 195.1 L 309.5 195.8 L 311.4 196.3 L 314.1 197.2 L 319.7 199.5 L 321.5 200 L 323.3 200.4 L 326.1 200.7 L 329.8 201.1 L 331.6 201.5 L 334.4 202.3 L 341.8 205 L 343.6 205.3 L 346.4 205.6 L 351 206 L 352.8 206.3 L 354.6 206.8 L 357.4 207.7 L 361.1 209 L 362.9 209.5 L 364.8 209.9 L 367.5 210.2 L 372.1 210.5 L 374 210.9 L 375.8 211.4 L 378.6 212.4 L 382.2 213.9 L 385 214.7 L 387.8 215.1 L 392.4 215.7 L 394.2 216.1 L 396.1 216.7 L 397.9 217.4 L 401.6 219.4 L 405.3 221.2 L 408 222.4 L 411.7 223.7 L 414.5 224.7 L 416.3 225.6 L 419.1 227.4 L 420.9 228.7 L 421.8 229.6 L 425.5 233.8 L 428.4 237.1 L 433.2 243.2 L 438.1 249.2 L 440 251.9 L 442.9 256.3 L 445.8 260.9 L 446.8 262.7 L 448.6 267.1 L 451.4 274.5 L 455 284.6 L 459.6 296.8 L 470.7 324.7 L 482.6 354.1 L 489.1 370.6 L 525.9 465.7 L 541.6 505.8 L 541.6 505.8" clip-path="url(#p14f3e395e9)" style="fill: none; stroke: #ff801a; stroke-opacity: 0.165; stroke-width: 1.8; stroke-linecap: square"/>
</g>
<g id="line2d_4">
<path d="M 117.5 181.6 L 120.3 181.4 L 123.9 181.5 L 125.8 181.9 L 129.5 182.8 L 131.3 183 L 133.1 183.1 L 135.9 183.1 L 140.5 182.8 L 142.4 183 L 144.2 183.2 L 147 183.9 L 150.6 184.8 L 152.5 185.1 L 154.3 185.2 L 157.1 185.1 L 160.8 185 L 162.6 185.1 L 164.4 185.3 L 167.2 186 L 171.8 187.2 L 173.6 187.6 L 175.5 187.7 L 178.2 187.7 L 181.9 187.7 L 183.8 187.8 L 185.6 188.1 L 188.4 188.8 L 193 190.2 L 194.8 190.5 L 196.7 190.7 L 199.4 190.7 L 203.1 190.7 L 204.9 190.9 L 206.8 191.2 L 209.5 191.9 L 214.1 193.2 L 216 193.6 L 217.8 193.7 L 220.6 193.7 L 224.3 193.7 L 226.1 193.9 L 227.9 194.2 L 230.7 195 L 234.4 196.1 L 236.2 196.6 L 238.1 196.8 L 240.8 197 L 245.4 197.1 L 247.3 197.3 L 249.1 197.7 L 251.9 198.5 L 255.6 199.6 L 257.4 200 L 259.2 200.3 L 262 200.4 L 266.6 200.5 L 268.4 200.7 L 271.2 201.4 L 277.6 203.3 L 279.5 203.6 L 281.3 203.7 L 288.7 203.8 L 290.5 204.1 L 293.3 204.9 L 297.9 206.2 L 299.7 206.6 L 301.6 206.8 L 304.3 206.8 L 308 206.9 L 309.9 207.1 L 311.7 207.4 L 314.5 208.2 L 319.1 209.6 L 320.9 210 L 323.7 210.2 L 330.1 210.5 L 331.9 210.8 L 334.7 211.6 L 340.2 213.5 L 342.1 213.9 L 344.8 214.2 L 351.3 214.8 L 353.1 215.2 L 355.9 216.1 L 361.4 218.1 L 363.2 218.6 L 366 219 L 371.5 219.6 L 373.4 220.1 L 375.2 220.6 L 378 221.7 L 381.6 223.3 L 384.4 224.1 L 387.2 224.7 L 391.8 225.3 L 393.6 225.8 L 395.5 226.5 L 397.3 227.3 L 400.1 228.9 L 409.3 234.5 L 412.9 236.6 L 414.8 238 L 416.6 239.7 L 419.4 242.6 L 420.3 243.7 L 422.1 246.7 L 426.7 255 L 429.3 260.4 L 433.6 269.6 L 435.4 273.6 L 436.3 276 L 438 281.7 L 440.6 291 L 444.2 302 L 446.9 310.6 L 455.2 337 L 460.7 354.4 L 463.5 365.1 L 467.2 380.5 L 472.7 404 L 481 437.8 L 509.3 554 L 509.3 554" clip-path="url(#p14f3e395e9)" style="fill: none; stroke: #8cb2e6; stroke-opacity: 0.15; stroke-width: 1.6; stroke-linecap: square"/>
</g>
<g id="line2d_5">
<path d="M 117.5 143.2 L 120.3 143.4 L 122.1 143.7 L 124.9 144.6 L 130.4 146.5 L 132.2 146.9 L 135 147.2 L 140.5 147.6 L 142.4 148 L 144.2 148.4 L 147 149.4 L 150.6 150.8 L 153.4 151.5 L 156.2 151.9 L 161.7 152.5 L 163.5 152.9 L 166.3 153.9 L 172.7 156.5 L 174.6 157 L 177.3 157.5 L 182.8 158.3 L 184.7 158.8 L 187.4 159.8 L 193.9 162.5 L 195.7 163.1 L 198.5 163.6 L 203.1 164.2 L 204.9 164.7 L 206.8 165.2 L 209.5 166.4 L 214.1 168.3 L 216 168.9 L 217.8 169.3 L 220.6 169.6 L 224.3 170.1 L 226.1 170.5 L 228.9 171.4 L 236.2 174.2 L 238.1 174.6 L 240.8 174.9 L 245.4 175.4 L 247.3 175.8 L 250 176.6 L 257.4 179.3 L 259.2 179.7 L 262 180.1 L 265.7 180.4 L 267.5 180.8 L 269.4 181.3 L 272.1 182.3 L 277.6 184.5 L 279.5 185 L 282.2 185.5 L 287.8 186.4 L 289.6 186.9 L 292.4 187.9 L 298.8 190.7 L 300.7 191.3 L 303.4 191.8 L 308.9 192.8 L 310.8 193.3 L 313.5 194.4 L 319.1 196.8 L 320.9 197.4 L 322.7 197.8 L 325.5 198.3 L 329.2 198.8 L 331 199.2 L 333.8 200.1 L 341.2 202.8 L 343 203.3 L 345.8 203.6 L 350.4 204 L 352.2 204.3 L 355 205.1 L 362.3 207.6 L 364.2 208 L 366.9 208.3 L 371.5 208.7 L 373.4 209.1 L 375.2 209.6 L 378 210.7 L 381.6 212.1 L 384.4 212.9 L 387.2 213.4 L 391.8 214.1 L 393.6 214.5 L 395.5 215.1 L 398.2 216.3 L 406.5 220.5 L 409.3 221.4 L 413.9 223 L 415.7 223.9 L 418.5 225.6 L 428.6 232.2 L 431.3 234.5 L 434.1 237.1 L 435.9 239.2 L 437.8 241.6 L 439.6 244.3 L 441.5 247.2 L 443.3 250.5 L 444.2 252.3 L 446.1 256.6 L 448.8 264.1 L 451.6 271.8 L 459.9 292.8 L 463.6 301.4 L 468.2 311.4 L 473.7 322.8 L 489.3 354.6 L 533.5 445.9 L 540 459.4 L 540 459.4" clip-path="url(#p14f3e395e9)" style="fill: none; stroke: #6675a3; stroke-opacity: 0.22; stroke-width: 2; stroke-linecap: square"/>
</g>
<g id="line2d_6">
<path d="M 117.5 195.6 L 120.3 195.1 L 124.9 194.5 L 130.4 195.3 L 132.2 195.3 L 135 195.1 L 140.5 194.4 L 142.4 194.4 L 144.2 194.5 L 147 195 L 150.6 195.6 L 152.5 195.7 L 154.3 195.7 L 157.1 195.4 L 160.8 195 L 162.6 195 L 164.4 195.1 L 167.2 195.5 L 171.8 196.4 L 173.6 196.6 L 175.5 196.6 L 178.2 196.5 L 181.9 196.2 L 183.8 196.2 L 185.6 196.4 L 188.4 196.9 L 193 197.9 L 194.8 198.1 L 196.7 198.2 L 199.4 198 L 203.1 197.8 L 204.9 197.9 L 206.8 198.1 L 209.5 198.6 L 214.1 199.7 L 216 199.9 L 217.8 199.9 L 220.6 199.8 L 224.3 199.5 L 226.1 199.6 L 227.9 199.8 L 230.7 200.4 L 234.4 201.2 L 236.2 201.5 L 238.1 201.6 L 240.8 201.5 L 245.4 201.2 L 247.3 201.3 L 249.1 201.5 L 251.9 202.1 L 255.6 203 L 257.4 203.3 L 259.2 203.4 L 262 203.3 L 266.6 203.1 L 268.4 203.2 L 270.3 203.5 L 273 204.2 L 276.7 205.1 L 278.6 205.4 L 280.4 205.5 L 283.2 205.5 L 286.8 205.3 L 288.7 205.4 L 290.5 205.7 L 293.3 206.3 L 297.9 207.5 L 299.7 207.8 L 301.6 208 L 304.3 208 L 308 207.9 L 309.9 208.1 L 311.7 208.4 L 314.5 209.1 L 319.1 210.4 L 320.9 210.8 L 323.7 211 L 330.1 211.2 L 331.9 211.5 L 334.7 212.2 L 341.2 214.3 L 343.9 214.7 L 347.6 215 L 350.4 215.2 L 352.2 215.5 L 354 216.1 L 356.8 217.1 L 361.4 218.9 L 363.2 219.4 L 366 219.9 L 371.5 220.6 L 373.4 221.1 L 375.2 221.7 L 378 222.9 L 381.6 224.6 L 384.4 225.5 L 387.2 226.1 L 391.8 227 L 393.6 227.5 L 395.5 228.3 L 397.3 229.2 L 400.1 230.9 L 403.7 233.5 L 411.1 238.9 L 412.9 240.5 L 414.8 242.4 L 416.6 244.7 L 419.4 248.5 L 429.5 263.1 L 431.3 266.2 L 433.2 269.6 L 435 273.5 L 435.9 275.7 L 436.9 278.3 L 438.7 284.8 L 442.4 298.8 L 447 314.1 L 453.4 334.8 L 458 349.2 L 459.9 354.7 L 461.7 361.1 L 463.6 368.2 L 466.3 379.8 L 470.9 400.6 L 475.5 421.3 L 506.3 554 L 506.3 554" clip-path="url(#p14f3e395e9)" style="fill: none; stroke: #6675a3; stroke-opacity: 0.22; stroke-width: 2; stroke-linecap: square"/>
</g>
<g id="line2d_7">
<path d="M 117.5 155.1 L 120.3 155.3 L 122.1 155.6 L 124.9 156.4 L 130.4 158.1 L 132.2 158.5 L 135 158.8 L 140.5 159 L 142.4 159.3 L 144.2 159.7 L 147 160.6 L 150.6 161.9 L 152.5 162.3 L 154.3 162.7 L 157.1 162.9 L 160.8 163.1 L 162.6 163.4 L 164.4 163.8 L 167.2 164.7 L 171.8 166.5 L 173.6 167 L 176.4 167.4 L 183.8 168.3 L 185.6 168.7 L 188.4 169.7 L 193 171.5 L 194.8 172 L 197.6 172.5 L 204.9 173.4 L 206.8 173.9 L 209.5 174.9 L 214.1 176.6 L 216 177.1 L 217.8 177.5 L 220.6 177.7 L 224.3 178 L 226.1 178.4 L 228.9 179.1 L 235.3 181.4 L 237.1 181.8 L 239.9 182.1 L 246.4 182.5 L 248.2 182.9 L 251 183.8 L 256.5 185.6 L 258.3 186 L 261.1 186.3 L 266.6 186.7 L 268.4 187.1 L 270.3 187.6 L 273 188.5 L 276.7 189.9 L 279.5 190.6 L 282.2 191 L 287.8 191.7 L 289.6 192.2 L 292.4 193.1 L 298.8 195.7 L 300.7 196.2 L 303.4 196.7 L 308.9 197.4 L 310.8 197.9 L 313.5 198.8 L 319.1 201.1 L 320.9 201.6 L 322.7 202 L 325.5 202.3 L 329.2 202.7 L 331 203.1 L 333.8 203.9 L 341.2 206.6 L 343 206.9 L 345.8 207.2 L 350.4 207.6 L 352.2 207.9 L 354 208.4 L 356.8 209.3 L 360.5 210.6 L 362.3 211.1 L 364.2 211.5 L 366.9 211.8 L 371.5 212.1 L 373.4 212.5 L 375.2 213 L 378 214 L 381.6 215.5 L 384.4 216.3 L 387.2 216.7 L 391.8 217.3 L 393.6 217.7 L 395.5 218.3 L 397.3 219 L 401 221 L 404.7 222.8 L 407.4 224 L 411.1 225.3 L 413.9 226.3 L 415.7 227.2 L 418.5 229 L 420.3 230.3 L 421.2 231.2 L 424.9 235.4 L 427.7 238.7 L 432.3 244.8 L 436.9 250.8 L 439.6 254.9 L 443.3 260.9 L 445.2 264.3 L 447 268.7 L 449.8 276.1 L 453.4 286.2 L 458 298.4 L 469.1 326.3 L 481 355.7 L 487.5 372.2 L 524.3 467.3 L 540 507.4 L 540 507.4" clip-path="url(#p14f3e395e9)" style="fill: none; stroke: #6675a3; stroke-opacity: 0.3; stroke-width: 2; stroke-linecap: square"/>
</g>
<g id="line2d_8">
<path d="M 117.5 180.2 L 120.3 180 L 123.9 180.1 L 125.8 180.5 L 129.5 181.4 L 131.3 181.6 L 133.1 181.7 L 135.9 181.7 L 140.5 181.4 L 142.4 181.6 L 144.2 181.8 L 147 182.5 L 150.6 183.4 L 152.5 183.7 L 154.3 183.8 L 157.1 183.7 L 160.8 183.6 L 162.6 183.7 L 164.4 183.9 L 167.2 184.6 L 171.8 185.8 L 173.6 186.2 L 175.5 186.3 L 178.2 186.3 L 181.9 186.3 L 183.8 186.4 L 185.6 186.7 L 188.4 187.4 L 193 188.8 L 194.8 189.1 L 196.7 189.3 L 199.4 189.3 L 203.1 189.3 L 204.9 189.5 L 206.8 189.8 L 209.5 190.5 L 214.1 191.8 L 216 192.2 L 217.8 192.3 L 220.6 192.3 L 224.3 192.3 L 226.1 192.5 L 227.9 192.8 L 230.7 193.6 L 234.4 194.7 L 236.2 195.2 L 238.1 195.4 L 240.8 195.6 L 245.4 195.7 L 247.3 195.9 L 249.1 196.3 L 251.9 197.1 L 255.6 198.2 L 257.4 198.6 L 259.2 198.9 L 262 199 L 266.6 199.1 L 268.4 199.3 L 271.2 200 L 277.6 201.9 L 279.5 202.2 L 281.3 202.3 L 288.7 202.4 L 290.5 202.7 L 293.3 203.5 L 297.9 204.8 L 299.7 205.2 L 301.6 205.4 L 304.3 205.4 L 308 205.5 L 309.9 205.7 L 311.7 206 L 314.5 206.8 L 319.1 208.2 L 320.9 208.6 L 323.7 208.8 L 330.1 209.1 L 331.9 209.4 L 334.7 210.2 L 340.2 212.1 L 342.1 212.5 L 344.8 212.8 L 351.3 213.4 L 353.1 213.8 L 355.9 214.7 L 361.4 216.7 L 363.2 217.2 L 366 217.6 L 371.5 218.2 L 373.4 218.7 L 375.2 219.2 L 378 220.3 L 381.6 221.9 L 384.4 222.7 L 387.2 223.3 L 391.8 223.9 L 393.6 224.4 L 395.5 225.1 L 397.3 225.9 L 400.1 227.5 L 409.3 233.1 L 412.9 235.2 L 414.8 236.6 L 416.6 238.3 L 419.4 241.2 L 420.3 242.3 L 422.1 245.3 L 428.6 257.1 L 435 270.1 L 435.9 272.2 L 436.9 274.6 L 438.7 280.3 L 441.5 289.6 L 445.2 300.6 L 447.9 309.2 L 456.2 335.6 L 461.7 353 L 464.5 363.7 L 468.2 379.1 L 473.7 402.6 L 482 436.4 L 510.7 554 L 510.7 554" clip-path="url(#p14f3e395e9)" style="fill: none; stroke: #6675a3; stroke-opacity: 0.3; stroke-width: 2; stroke-linecap: square"/>
</g>
<g id="matplotlib.axis_1"/>
<g id="matplotlib.axis_2"/>
<g id="line2d_9">
<path d="M 117.5 166.3 L 120.9 166.6 L 123.4 167.1 L 128.5 168.3 L 131.9 168.9 L 135.2 169.3 L 141.1 169.8 L 143.7 170.2 L 147 171 L 151.3 172 L 153.8 172.5 L 157.2 172.8 L 161.4 173.2 L 163.9 173.6 L 167.3 174.4 L 172.4 175.8 L 174.9 176.3 L 178.3 176.7 L 182.5 177.1 L 185 177.6 L 188.4 178.4 L 193.5 179.8 L 196 180.3 L 199.4 180.8 L 203.6 181.2 L 206.1 181.7 L 209.5 182.6 L 214.6 184 L 217.1 184.5 L 220.5 184.8 L 224.7 185.3 L 227.2 185.8 L 230.6 186.6 L 235.7 188 L 238.2 188.4 L 241.6 188.8 L 245.8 189.2 L 248.3 189.7 L 251.7 190.5 L 256.8 191.9 L 259.3 192.3 L 263.5 192.8 L 266.9 193.2 L 269.4 193.7 L 272.8 194.6 L 277.9 196 L 280.4 196.4 L 284.6 197 L 288 197.4 L 290.5 198 L 293.9 198.9 L 298.1 200.2 L 300.7 200.7 L 304.1 201.2 L 309.1 201.9 L 311.6 202.4 L 315 203.4 L 319.2 204.6 L 321.8 205.1 L 325.2 205.6 L 330.2 206.2 L 332.8 206.8 L 336.1 207.8 L 340.3 209 L 342.9 209.5 L 346.3 210 L 350.5 210.6 L 353 211.1 L 356.4 212 L 361.5 213.5 L 364 214.1 L 367.4 214.6 L 371.6 215.2 L 374.1 215.7 L 377.5 216.7 L 383.4 218.6 L 386.8 219.3 L 392.7 220.4 L 395.2 221.2 L 397.7 222.1 L 402 224.1 L 407 226.5 L 418 231.4 L 422.2 233.9 L 423.1 234.5 L 423.9 235.3 L 424.8 236.3 L 426.4 239.4 L 428.1 242.7 L 430.7 248.2 L 434 256 L 436.6 261.1 L 439.1 265.7 L 440 267.2 L 442.5 272.5 L 445 277.8 L 446.7 281.1 L 447.6 283 L 449.2 287.9 L 453.5 301.4 L 457.7 314.1 L 461.9 326.2 L 472 355.8 L 477.1 370.5 L 481.3 383.5 L 488.1 405.4 L 496.5 432.6 L 505 459.6 L 505 459.6" clip-path="url(#p14f3e395e9)" style="fill: none; stroke: #f07d32; stroke-width: 4.3; stroke-linecap: square"/>
</g>
<g id="line2d_10">
<path d="M 117.5 166.9 L 119.2 166.7 L 120.9 166.8 L 122.6 167.1 L 124.3 167.7 L 130.2 170.2 L 131.9 170.6 L 133.5 170.7 L 135.2 170.6 L 140.3 169.9 L 142 170 L 143.7 170.4 L 145.4 171 L 151.3 173.6 L 153 174 L 154.6 174.1 L 156.3 174 L 161.4 173.4 L 163.1 173.6 L 164.8 174 L 166.5 174.7 L 172.4 177.4 L 174.1 177.8 L 175.7 177.9 L 177.4 177.8 L 181.7 177.3 L 183.3 177.4 L 185 177.7 L 186.7 178.3 L 189.3 179.5 L 191.8 180.8 L 193.5 181.5 L 195.2 181.9 L 196.8 182 L 198.5 181.9 L 202.8 181.4 L 204.4 181.5 L 206.1 181.9 L 207.8 182.5 L 210.4 183.7 L 212.9 185 L 214.6 185.6 L 216.3 186 L 218 186.1 L 219.6 186 L 223.9 185.5 L 225.5 185.6 L 227.2 185.9 L 228.9 186.5 L 231.5 187.8 L 234 189 L 235.7 189.6 L 237.4 189.9 L 239.1 190 L 241.6 189.8 L 244.1 189.4 L 245.8 189.4 L 247.5 189.6 L 249.2 190.1 L 250.9 190.9 L 255.9 193.3 L 257.6 193.7 L 259.3 193.9 L 261 193.9 L 266.1 193.3 L 267.8 193.5 L 269.4 193.8 L 271.1 194.5 L 274.5 196.2 L 277 197.3 L 278.7 197.8 L 280.4 198 L 282.1 198 L 287.2 197.5 L 288.9 197.7 L 290.5 198.1 L 292.2 198.8 L 298.1 201.7 L 299.8 202.2 L 301.5 202.4 L 303.2 202.4 L 308.3 202 L 310 202.2 L 311.6 202.6 L 313.3 203.3 L 319.2 206.2 L 320.9 206.6 L 322.6 206.8 L 324.3 206.7 L 329.4 206.3 L 331.1 206.5 L 332.8 207 L 334.4 207.7 L 340.3 210.6 L 342 211.1 L 343.7 211.2 L 345.4 211.2 L 349.6 210.8 L 351.3 210.9 L 353 211.2 L 354.7 211.8 L 357.2 213.1 L 359.8 214.4 L 361.5 215.1 L 363.1 215.6 L 364.8 215.7 L 366.5 215.7 L 370.7 215.4 L 372.4 215.5 L 374.1 215.9 L 375.8 216.6 L 378.3 217.9 L 380.9 219.3 L 382.6 220 L 384.2 220.5 L 385.9 220.7 L 388.5 220.6 L 391 220.5 L 392.7 220.6 L 394.4 221 L 396.1 221.7 L 397.7 222.6 L 404.5 227 L 406.2 227.8 L 408.7 228.5 L 413.8 229.8 L 415.5 230.7 L 418 232.5 L 419.7 234 L 420.5 235 L 421.4 236.2 L 424.8 242.5 L 427.3 247.7 L 431.5 257.1 L 434 262 L 437.4 268 L 440.8 274.2 L 442.5 277.2 L 445 281.4 L 445.9 283.1 L 447.6 287.3 L 458.5 317.3 L 461.1 323.9 L 462.7 328.7 L 467.8 343.8 L 477.9 373 L 482.2 386.2 L 491.4 416.4 L 505 459.6 L 505 459.6" clip-path="url(#p14f3e395e9)" style="fill: none; stroke: #3f74ac; stroke-width: 4.6; stroke-linecap: square"/>
</g>
<g id="line2d_11">
<path d="M 300 469 L 700 157.2" clip-path="url(#p14f3e395e9)" style="fill: none; stroke: #ec2f75; stroke-width: 3.7; stroke-linecap: square"/>
</g>
<g id="line2d_12">
<path d="M 200 421.4 L 200 142.6" clip-path="url(#p14f3e395e9)" style="fill: none; stroke-dasharray: 4,6.6; stroke-dashoffset: 0; stroke: #000000; stroke-width: 4"/>
</g>
<g id="line2d_13">
<path d="M 666 421.4 L 666 142.6" clip-path="url(#p14f3e395e9)" style="fill: none; stroke-dasharray: 4,6.6; stroke-dashoffset: 0; stroke: #000000; stroke-width: 4"/>
</g>
<g id="patch_3">
<path d="M 121.5 421.4 L 121.5 142.6" style="fill: none; stroke: #000000; stroke-width: 2.9; stroke-linejoin: miter; stroke-linecap: square"/>
</g>
<g id="patch_4">
<path d="M 684.6 421.4 L 684.6 142.6" style="fill: none; stroke: #000000; stroke-width: 2.9; stroke-linejoin: miter; stroke-linecap: square"/>
</g>
<g id="patch_5">
<path d="M 121.5 421.4 L 684.6 421.4" style="fill: none; stroke: #000000; stroke-width: 2.9; stroke-linejoin: miter; stroke-linecap: square"/>
</g>
<g id="patch_6">
<path d="M 121.5 142.6 L 684.6 142.6" style="fill: none; stroke: #000000; stroke-width: 2.9; stroke-linejoin: miter; stroke-linecap: square"/>
</g>
</g>
<g id="text_1">
<!-- $\mathdefault{10^{-1}}$ -->
<g transform="translate(20.6 177.1) scale(0.397 -0.397)">
<defs>
<path id="DejaVuSans-31" d="M 794 531 L 1825 531 L 1825 4091 L 703 3866 L 703 4441 L 1819 4666 L 2450 4666 L 2450 531 L 3481 531 L 3481 0 L 794 0 L 794 531 z" transform="scale(0.015625)"/>
<path id="DejaVuSans-30" d="M 2034 4250 Q 1547 4250 1301 3770 Q 1056 3291 1056 2328 Q 1056 1369 1301 889 Q 1547 409 2034 409 Q 2525 409 2770 889 Q 3016 1369 3016 2328 Q 3016 3291 2770 3770 Q 2525 4250 2034 4250 z M 2034 4750 Q 2819 4750 3233 4129 Q 3647 3509 3647 2328 Q 3647 1150 3233 529 Q 2819 -91 2034 -91 Q 1250 -91 836 529 Q 422 1150 422 2328 Q 422 3509 836 4129 Q 1250 4750 2034 4750 z" transform="scale(0.015625)"/>
<path id="DejaVuSans-2212" d="M 678 2272 L 4684 2272 L 4684 1741 L 678 1741 L 678 2272 z" transform="scale(0.015625)"/>
</defs>
<use href="#DejaVuSans-31" transform="translate(0 0.684375)"/>
<use href="#DejaVuSans-30" transform="translate(63.623047 0.684375)"/>
<use href="#DejaVuSans-2212" transform="translate(128.203125 38.965625) scale(0.7)"/>
<use href="#DejaVuSans-31" transform="translate(186.855469 38.965625) scale(0.7)"/>
</g>
</g>
<g id="text_2">
<!-- $\mathdefault{10^{-3}}$ -->
<g transform="translate(19.945588 272) scale(0.397 -0.397)">
<defs>
<path id="DejaVuSans-33" d="M 2597 2516 Q 3050 2419 3304 2112 Q 3559 1806 3559 1356 Q 3559 666 3084 287 Q 2609 -91 1734 -91 Q 1441 -91 1130 -33 Q 819 25 488 141 L 488 750 Q 750 597 1062 519 Q 1375 441 1716 441 Q 2309 441 2620 675 Q 2931 909 2931 1356 Q 2931 1769 2642 2001 Q 2353 2234 1838 2234 L 1294 2234 L 1294 2753 L 1863 2753 Q 2328 2753 2575 2939 Q 2822 3125 2822 3475 Q 2822 3834 2567 4026 Q 2313 4219 1838 4219 Q 1578 4219 1281 4162 Q 984 4106 628 3988 L 628 4550 Q 988 4650 1302 4700 Q 1616 4750 1894 4750 Q 2613 4750 3031 4423 Q 3450 4097 3450 3541 Q 3450 3153 3228 2886 Q 3006 2619 2597 2516 z" transform="scale(0.015625)"/>
</defs>
<use href="#DejaVuSans-31" transform="translate(0 0.765625)"/>
<use href="#DejaVuSans-30" transform="translate(63.623047 0.765625)"/>
<use href="#DejaVuSans-2212" transform="translate(128.203125 39.046875) scale(0.7)"/>
<use href="#DejaVuSans-33" transform="translate(186.855469 39.046875) scale(0.7)"/>
</g>
</g>
<g id="text_3">
<!-- $\mathdefault{10^{-5}}$ -->
<g transform="translate(19.853431 366.4) scale(0.397 -0.397)">
<defs>
<path id="DejaVuSans-35" d="M 691 4666 L 3169 4666 L 3169 4134 L 1269 4134 L 1269 2991 Q 1406 3038 1543 3061 Q 1681 3084 1819 3084 Q 2600 3084 3056 2656 Q 3513 2228 3513 1497 Q 3513 744 3044 326 Q 2575 -91 1722 -91 Q 1428 -91 1123 -41 Q 819 9 494 109 L 494 744 Q 775 591 1075 516 Q 1375 441 1709 441 Q 2250 441 2565 725 Q 2881 1009 2881 1497 Q 2881 1984 2565 2268 Q 2250 2553 1709 2553 Q 1456 2553 1204 2497 Q 953 2441 691 2322 L 691 4666 z" transform="scale(0.015625)"/>
</defs>
<use href="#DejaVuSans-31" transform="translate(0 0.684375)"/>
<use href="#DejaVuSans-30" transform="translate(63.623047 0.684375)"/>
<use href="#DejaVuSans-2212" transform="translate(128.203125 38.965625) scale(0.7)"/>
<use href="#DejaVuSans-35" transform="translate(186.855469 38.965625) scale(0.7)"/>
</g>
</g>
<g id="text_4">
<!-- $\mathdefault{10^{-2}}$ -->
<g transform="translate(255.7 462) scale(0.397 -0.397)">
<defs>
<path id="DejaVuSans-32" d="M 1228 531 L 3431 531 L 3431 0 L 469 0 L 469 531 Q 828 903 1448 1529 Q 2069 2156 2228 2338 Q 2531 2678 2651 2914 Q 2772 3150 2772 3378 Q 2772 3750 2511 3984 Q 2250 4219 1831 4219 Q 1534 4219 1204 4116 Q 875 4013 500 3803 L 500 4441 Q 881 4594 1212 4672 Q 1544 4750 1819 4750 Q 2544 4750 2975 4387 Q 3406 4025 3406 3419 Q 3406 3131 3298 2873 Q 3191 2616 2906 2266 Q 2828 2175 2409 1742 Q 1991 1309 1228 531 z" transform="scale(0.015625)"/>
</defs>
<use href="#DejaVuSans-31" transform="translate(0 0.765625)"/>
<use href="#DejaVuSans-30" transform="translate(63.623047 0.765625)"/>
<use href="#DejaVuSans-2212" transform="translate(128.203125 39.046875) scale(0.7)"/>
<use href="#DejaVuSans-32" transform="translate(186.855469 39.046875) scale(0.7)"/>
</g>
</g>
<g id="text_5">
<!-- $\mathdefault{10^{1}}$ -->
<g transform="translate(449.5 461.7) scale(0.397 -0.397)">
<use href="#DejaVuSans-31" transform="translate(0 0.684375)"/>
<use href="#DejaVuSans-30" transform="translate(63.623047 0.684375)"/>
<use href="#DejaVuSans-31" transform="translate(128.203125 38.965625) scale(0.7)"/>
</g>
</g>
<g id="text_6">
<!-- $\mathdefault{10^{4}}$ -->
<g transform="translate(630.45 462) scale(0.397 -0.397)">
<defs>
<path id="DejaVuSans-34" d="M 2419 4116 L 825 1625 L 2419 1625 L 2419 4116 z M 2253 4666 L 3047 4666 L 3047 1625 L 3713 1625 L 3713 1100 L 3047 1100 L 3047 0 L 2419 0 L 2419 1100 L 313 1100 L 313 1709 L 2253 4666 z" transform="scale(0.015625)"/>
</defs>
<use href="#DejaVuSans-31" transform="translate(0 0.684375)"/>
<use href="#DejaVuSans-30" transform="translate(63.623047 0.684375)"/>
<use href="#DejaVuSans-34" transform="translate(128.203125 38.965625) scale(0.7)"/>
</g>
</g>
<g id="text_7">
<!-- Frequency ($d^{-1}$) -->
<g transform="translate(230.630882 522) scale(0.427 -0.427)">
<defs>
<path id="DejaVuSans-46" d="M 628 4666 L 3309 4666 L 3309 4134 L 1259 4134 L 1259 2759 L 3109 2759 L 3109 2228 L 1259 2228 L 1259 0 L 628 0 L 628 4666 z" transform="scale(0.015625)"/>
<path id="DejaVuSans-72" d="M 2631 2963 Q 2534 3019 2420 3045 Q 2306 3072 2169 3072 Q 1681 3072 1420 2755 Q 1159 2438 1159 1844 L 1159 0 L 581 0 L 581 3500 L 1159 3500 L 1159 2956 Q 1341 3275 1631 3429 Q 1922 3584 2338 3584 Q 2397 3584 2469 3576 Q 2541 3569 2628 3553 L 2631 2963 z" transform="scale(0.015625)"/>
<path id="DejaVuSans-65" d="M 3597 1894 L 3597 1613 L 953 1613 Q 991 1019 1311 708 Q 1631 397 2203 397 Q 2534 397 2845 478 Q 3156 559 3463 722 L 3463 178 Q 3153 47 2828 -22 Q 2503 -91 2169 -91 Q 1331 -91 842 396 Q 353 884 353 1716 Q 353 2575 817 3079 Q 1281 3584 2069 3584 Q 2775 3584 3186 3129 Q 3597 2675 3597 1894 z M 3022 2063 Q 3016 2534 2758 2815 Q 2500 3097 2075 3097 Q 1594 3097 1305 2825 Q 1016 2553 972 2059 L 3022 2063 z" transform="scale(0.015625)"/>
<path id="DejaVuSans-71" d="M 947 1747 Q 947 1113 1208 752 Q 1469 391 1925 391 Q 2381 391 2643 752 Q 2906 1113 2906 1747 Q 2906 2381 2643 2742 Q 2381 3103 1925 3103 Q 1469 3103 1208 2742 Q 947 2381 947 1747 z M 2906 525 Q 2725 213 2448 61 Q 2172 -91 1784 -91 Q 1150 -91 751 415 Q 353 922 353 1747 Q 353 2572 751 3078 Q 1150 3584 1784 3584 Q 2172 3584 2448 3432 Q 2725 3281 2906 2969 L 2906 3500 L 3481 3500 L 3481 -1331 L 2906 -1331 L 2906 525 z" transform="scale(0.015625)"/>
<path id="DejaVuSans-75" d="M 544 1381 L 544 3500 L 1119 3500 L 1119 1403 Q 1119 906 1312 657 Q 1506 409 1894 409 Q 2359 409 2629 706 Q 2900 1003 2900 1516 L 2900 3500 L 3475 3500 L 3475 0 L 2900 0 L 2900 538 Q 2691 219 2414 64 Q 2138 -91 1772 -91 Q 1169 -91 856 284 Q 544 659 544 1381 z M 1991 3584 L 1991 3584 z" transform="scale(0.015625)"/>
<path id="DejaVuSans-6e" d="M 3513 2113 L 3513 0 L 2938 0 L 2938 2094 Q 2938 2591 2744 2837 Q 2550 3084 2163 3084 Q 1697 3084 1428 2787 Q 1159 2491 1159 1978 L 1159 0 L 581 0 L 581 3500 L 1159 3500 L 1159 2956 Q 1366 3272 1645 3428 Q 1925 3584 2291 3584 Q 2894 3584 3203 3211 Q 3513 2838 3513 2113 z" transform="scale(0.015625)"/>
<path id="DejaVuSans-63" d="M 3122 3366 L 3122 2828 Q 2878 2963 2633 3030 Q 2388 3097 2138 3097 Q 1578 3097 1268 2742 Q 959 2388 959 1747 Q 959 1106 1268 751 Q 1578 397 2138 397 Q 2388 397 2633 464 Q 2878 531 3122 666 L 3122 134 Q 2881 22 2623 -34 Q 2366 -91 2075 -91 Q 1284 -91 818 406 Q 353 903 353 1747 Q 353 2603 823 3093 Q 1294 3584 2113 3584 Q 2378 3584 2631 3529 Q 2884 3475 3122 3366 z" transform="scale(0.015625)"/>
<path id="DejaVuSans-79" d="M 2059 -325 Q 1816 -950 1584 -1140 Q 1353 -1331 966 -1331 L 506 -1331 L 506 -850 L 844 -850 Q 1081 -850 1212 -737 Q 1344 -625 1503 -206 L 1606 56 L 191 3500 L 800 3500 L 1894 763 L 2988 3500 L 3597 3500 L 2059 -325 z" transform="scale(0.015625)"/>
<path id="DejaVuSans-20" transform="scale(0.015625)"/>
<path id="DejaVuSans-28" d="M 1984 4856 Q 1566 4138 1362 3434 Q 1159 2731 1159 2009 Q 1159 1288 1364 580 Q 1569 -128 1984 -844 L 1484 -844 Q 1016 -109 783 600 Q 550 1309 550 2009 Q 550 2706 781 3412 Q 1013 4119 1484 4856 L 1984 4856 z" transform="scale(0.015625)"/>
<path id="DejaVuSans-Oblique-64" d="M 2675 525 Q 2444 222 2128 65 Q 1813 -91 1428 -91 Q 903 -91 598 267 Q 294 625 294 1247 Q 294 1766 478 2236 Q 663 2706 1013 3078 Q 1244 3325 1534 3454 Q 1825 3584 2144 3584 Q 2481 3584 2739 3421 Q 2997 3259 3138 2956 L 3513 4863 L 4091 4863 L 3144 0 L 2566 0 L 2675 525 z M 891 1350 Q 891 897 1095 644 Q 1300 391 1663 391 Q 1931 391 2161 520 Q 2391 650 2566 903 Q 2750 1166 2856 1509 Q 2963 1853 2963 2188 Q 2963 2622 2758 2865 Q 2553 3109 2194 3109 Q 1922 3109 1687 2981 Q 1453 2853 1288 2613 Q 1106 2353 998 2009 Q 891 1666 891 1350 z" transform="scale(0.015625)"/>
<path id="DejaVuSans-29" d="M 513 4856 L 1013 4856 Q 1481 4119 1714 3412 Q 1947 2706 1947 2009 Q 1947 1309 1714 600 Q 1481 -109 1013 -844 L 513 -844 Q 928 -128 1133 580 Q 1338 1288 1338 2009 Q 1338 2731 1133 3434 Q 928 4138 513 4856 z" transform="scale(0.015625)"/>
</defs>
<use href="#DejaVuSans-46" transform="translate(0 0.684375)"/>
<use href="#DejaVuSans-72" transform="translate(57.519531 0.684375)"/>
<use href="#DejaVuSans-65" transform="translate(98.632812 0.684375)"/>
<use href="#DejaVuSans-71" transform="translate(160.15625 0.684375)"/>
<use href="#DejaVuSans-75" transform="translate(223.632812 0.684375)"/>
<use href="#DejaVuSans-65" transform="translate(287.011719 0.684375)"/>
<use href="#DejaVuSans-6e" transform="translate(348.535156 0.684375)"/>
<use href="#DejaVuSans-63" transform="translate(411.914062 0.684375)"/>
<use href="#DejaVuSans-79" transform="translate(466.894531 0.684375)"/>
<use href="#DejaVuSans-20" transform="translate(526.074219 0.684375)"/>
<use href="#DejaVuSans-28" transform="translate(557.861328 0.684375)"/>
<use href="#DejaVuSans-Oblique-64" transform="translate(596.875 0.684375)"/>
<use href="#DejaVuSans-2212" transform="translate(667.799271 38.965625) scale(0.7)"/>
<use href="#DejaVuSans-31" transform="translate(726.451615 38.965625) scale(0.7)"/>
<use href="#DejaVuSans-29" transform="translate(773.722122 0.684375)"/>
</g>
</g>
<g id="text_8">
<!-- Mkn 110 -->
<g transform="translate(242.896078 57) scale(0.48 -0.48)">
<defs>
<path id="DejaVuSans-Bold-4d" d="M 588 4666 L 2119 4666 L 3181 2169 L 4250 4666 L 5778 4666 L 5778 0 L 4641 0 L 4641 3413 L 3566 897 L 2803 897 L 1728 3413 L 1728 0 L 588 0 L 588 4666 z" transform="scale(0.015625)"/>
<path id="DejaVuSans-Bold-6b" d="M 538 4863 L 1656 4863 L 1656 2216 L 2944 3500 L 4244 3500 L 2534 1894 L 4378 0 L 3022 0 L 1656 1459 L 1656 0 L 538 0 L 538 4863 z" transform="scale(0.015625)"/>
<path id="DejaVuSans-Bold-6e" d="M 4056 2131 L 4056 0 L 2931 0 L 2931 347 L 2931 1631 Q 2931 2084 2911 2256 Q 2891 2428 2841 2509 Q 2775 2619 2662 2680 Q 2550 2741 2406 2741 Q 2056 2741 1856 2470 Q 1656 2200 1656 1722 L 1656 0 L 538 0 L 538 3500 L 1656 3500 L 1656 2988 Q 1909 3294 2193 3439 Q 2478 3584 2822 3584 Q 3428 3584 3742 3212 Q 4056 2841 4056 2131 z" transform="scale(0.015625)"/>
<path id="DejaVuSans-Bold-20" transform="scale(0.015625)"/>
<path id="DejaVuSans-Bold-31" d="M 750 831 L 1813 831 L 1813 3847 L 722 3622 L 722 4441 L 1806 4666 L 2950 4666 L 2950 831 L 4013 831 L 4013 0 L 750 0 L 750 831 z" transform="scale(0.015625)"/>
<path id="DejaVuSans-Bold-30" d="M 2944 2338 Q 2944 3213 2780 3570 Q 2616 3928 2228 3928 Q 1841 3928 1675 3570 Q 1509 3213 1509 2338 Q 1509 1453 1675 1090 Q 1841 728 2228 728 Q 2613 728 2778 1090 Q 2944 1453 2944 2338 z M 4147 2328 Q 4147 1169 3647 539 Q 3147 -91 2228 -91 Q 1306 -91 806 539 Q 306 1169 306 2328 Q 306 3491 806 4120 Q 1306 4750 2228 4750 Q 3147 4750 3647 4120 Q 4147 3491 4147 2328 z" transform="scale(0.015625)"/>
</defs>
<use href="#DejaVuSans-Bold-4d"/>
<use href="#DejaVuSans-Bold-6b" transform="translate(99.511719 0)"/>
<use href="#DejaVuSans-Bold-6e" transform="translate(166.015625 0)"/>
<use href="#DejaVuSans-Bold-20" transform="translate(237.207031 0)"/>
<use href="#DejaVuSans-Bold-31" transform="translate(272.021484 0)"/>
<use href="#DejaVuSans-Bold-31" transform="translate(341.601562 0)"/>
<use href="#DejaVuSans-Bold-30" transform="translate(411.181641 0)"/>
</g>
</g>
<g id="line2d_14">
<path d="M 301 142.6 L 301 169.1" style="fill: none; stroke: #000000; stroke-width: 3.9"/>
</g>
<g id="line2d_15">
<path d="M 301 421.4 L 301 394" style="fill: none; stroke: #000000; stroke-width: 3.9"/>
</g>
<g id="line2d_16">
<path d="M 483 142.6 L 483 169.1" style="fill: none; stroke: #000000; stroke-width: 3.9"/>
</g>
<g id="line2d_17">
<path d="M 483 421.4 L 483 394" style="fill: none; stroke: #000000; stroke-width: 3.9"/>
</g>
<g id="line2d_18">
<path d="M 664 142.6 L 664 169.1" style="fill: none; stroke: #000000; stroke-width: 3.9"/>
</g>
<g id="line2d_19">
<path d="M 664 421.4 L 664 394" style="fill: none; stroke: #000000; stroke-width: 3.9"/>
</g>
<g id="line2d_20">
<path d="M 121.5 160.9 L 148 160.9" style="fill: none; stroke: #000000; stroke-width: 3.9"/>
</g>
<g id="line2d_21">
<path d="M 684.6 160.9 L 657 160.9" style="fill: none; stroke: #000000; stroke-width: 3.9"/>
</g>
<g id="line2d_22">
<path d="M 121.5 255.9 L 148 255.9" style="fill: none; stroke: #000000; stroke-width: 3.9"/>
</g>
<g id="line2d_23">
<path d="M 684.6 255.9 L 657 255.9" style="fill: none; stroke: #000000; stroke-width: 3.9"/>
</g>
<g id="line2d_24">
<path d="M 121.5 351 L 148 351" style="fill: none; stroke: #000000; stroke-width: 3.9"/>
</g>
<g id="line2d_25">
<path d="M 684.6 351 L 657 351" style="fill: none; stroke: #000000; stroke-width: 3.9"/>
</g>
</g>
<defs>
<clipPath id="p14f3e395e9">
<rect x="121.55" y="142.6" width="563.05" height="278.8"/>
</clipPath>
</defs>
</svg>

</body></html>
